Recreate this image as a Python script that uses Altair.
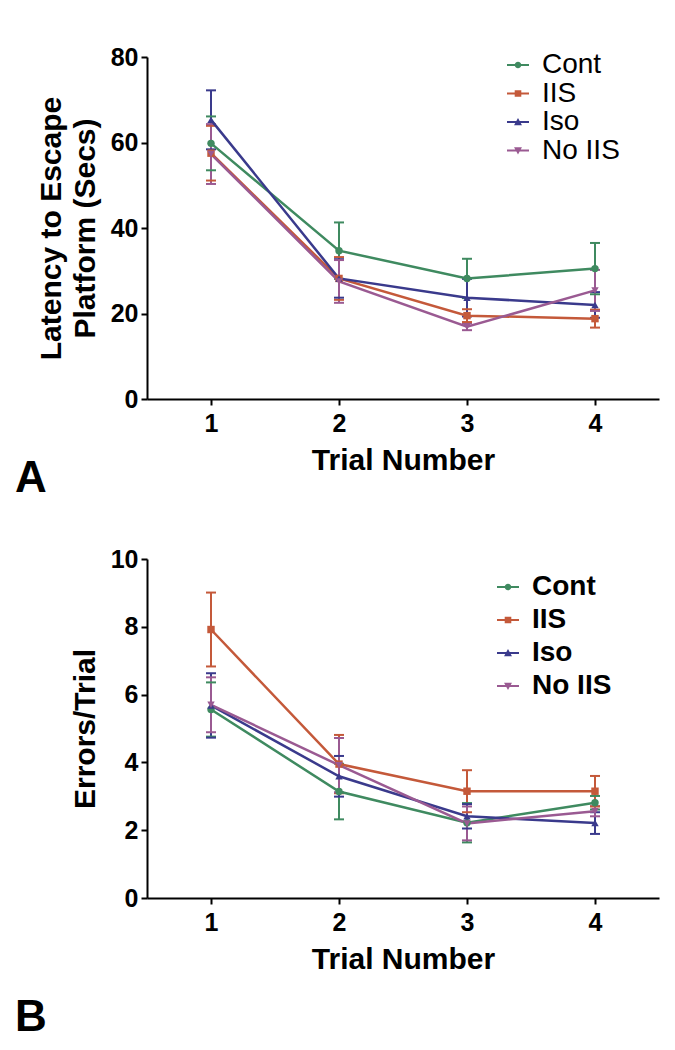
import altair as alt
import pandas as pd

FONT = "Liberation Sans"

series = ["Cont", "IIS", "Iso", "No IIS"]
colors = ["#3f8a60", "#c4593a", "#3a3a8c", "#9a5a92"]
shapes = ["circle", "square", "triangle-up", "triangle-down"]
trials = [1, 2, 3, 4]

# Panel A: latency to escape platform (s), mean and SEM
lat_cont = [59.8, 34.7, 28.2, 30.5]
lat_cont_err = [6.3, 6.6, 4.6, 6.0]
lat_iis = [57.5, 28.2, 19.5, 18.8]
lat_iis_err = [6.4, 5.0, 1.5, 2.1]
lat_iso = [65.3, 28.2, 23.7, 22.0]
lat_iso_err = [6.9, 4.5, 4.4, 3.0]
lat_noiis = [57.3, 27.5, 16.9, 25.4]
lat_noiis_err = [7.0, 5.0, 0.8, 4.8]

# Panel B: errors per trial, mean and SEM
err_cont = [5.56, 3.14, 2.22, 2.81]
err_cont_err = [0.80, 0.82, 0.58, 0.20]
err_iis = [7.92, 3.95, 3.15, 3.15]
err_iis_err = [1.09, 0.86, 0.62, 0.45]
err_iso = [5.68, 3.59, 2.41, 2.21]
err_iso_err = [0.95, 0.60, 0.36, 0.32]
err_noiis = [5.70, 3.92, 2.20, 2.56]
err_noiis_err = [0.81, 0.80, 0.50, 0.15]

# legend glyphs: line stub plus marker (custom SVG paths, unit square)
stub = "M-1,-0.09H1V0.09H-1Z"
legend_paths = [
    stub + "M-0.3,0A0.3,0.3 0 1,1 0.3,0A0.3,0.3 0 1,1 -0.3,0Z",
    stub + "M-0.3,-0.3H0.3V0.3H-0.3Z",
    stub + "M0,-0.36L0.36,0.3H-0.36Z",
    stub + "M-0.36,-0.3H0.36L0,0.36Z",
]


def to_long(vals, errs):
    rows = []
    for s, v, e in zip(series, vals, errs):
        for t, m, d in zip(trials, v, e):
            rows.append({"series": s, "trial": t, "mean": m, "lo": m - d, "hi": m + d})
    return pd.DataFrame(rows)


def panel(df, ymax, ystep, ytitle, height, letter, bold_legend, lx, ly, row_pad, letter_dy):
    base = alt.Chart(df)
    x = alt.X("trial:Q", scale=alt.Scale(domain=[0.5, 4.5], nice=False, zero=False),
              axis=alt.Axis(values=trials, format="d", title="Trial Number", grid=False,
                            labelPadding=6, titlePadding=9))
    y_vals = list(range(0, ymax + 1, ystep))
    yscale = alt.Scale(domain=[0, ymax], nice=False, zero=True)
    yaxis = alt.Axis(values=y_vals, title=ytitle, grid=False, labelPadding=3,
                     titlePadding=10, titleLineHeight=34)
    cscale = alt.Scale(domain=series, range=colors)
    col = alt.Color("series:N", scale=cscale, legend=None)

    rules = base.mark_rule(strokeWidth=2).encode(
        x=x, y=alt.Y("lo:Q", scale=yscale, axis=yaxis), y2="hi:Q", color=col)
    cap_hi = base.mark_tick(orient="horizontal", size=10, thickness=2, opacity=1).encode(
        x=x, y=alt.Y("hi:Q", scale=yscale, axis=yaxis), color=col)
    cap_lo = base.mark_tick(orient="horizontal", size=10, thickness=2, opacity=1).encode(
        x=x, y=alt.Y("lo:Q", scale=yscale, axis=yaxis), color=col)
    lines = base.mark_line(strokeWidth=2.5).encode(
        x=x, y=alt.Y("mean:Q", scale=yscale, axis=yaxis), color=col,
        detail="series:N", order="trial:Q")
    pts = base.mark_point(filled=True, opacity=1, size=55).encode(
        x=x, y=alt.Y("mean:Q", scale=yscale, axis=yaxis), color=col,
        shape=alt.Shape("series:N", scale=alt.Scale(domain=series, range=shapes), legend=None))

    leg = alt.Legend(title=None, orient="none", legendX=lx, legendY=ly,
                     labelFont=FONT, labelFontSize=28,
                     labelFontWeight="bold" if bold_legend else "normal",
                     labelColor="black", symbolSize=484, labelOffset=10,
                     rowPadding=row_pad, symbolStrokeWidth=0, padding=0)
    legend_layer = base.transform_filter("false").mark_point(filled=True, opacity=1).encode(
        x=x, y=alt.Y("mean:Q", scale=yscale, axis=yaxis),
        color=alt.Color("series:N", scale=cscale, legend=leg),
        shape=alt.Shape("series:N", scale=alt.Scale(domain=series, range=legend_paths), legend=leg))

    return alt.layer(rules, cap_hi, cap_lo, lines, pts, legend_layer).resolve_scale(
        color="independent", shape="independent"
    ).properties(
        width=512, height=height,
        title=alt.TitleParams(text=letter, orient="bottom", anchor="start", frame="group",
                              font=FONT, fontSize=44, fontWeight="bold", color="black",
                              dx=-132, dy=letter_dy, offset=0),
    )


dfA = to_long([lat_cont, lat_iis, lat_iso, lat_noiis],
              [lat_cont_err, lat_iis_err, lat_iso_err, lat_noiis_err])
dfB = to_long([err_cont, err_iis, err_iso, err_noiis],
              [err_cont_err, err_iis_err, err_iso_err, err_noiis_err])

chartA = panel(dfA, 80, 20, ["Latency to Escape", "Platform (Secs)"], 342, "A",
               False, 357, -6, 0.5, -18)
chartB = panel(dfB, 10, 2, "Errors/Trial", 339, "B", True, 347, 14, 5, 22)

chart = alt.vconcat(chartA, chartB, spacing=46).properties(
    padding={"top": 37, "left": 7, "right": 5, "bottom": 2}
).configure_view(stroke=None).configure_axis(
    domainColor="black", domainWidth=2, tickColor="black", tickWidth=2, tickSize=6,
    labelFont=FONT, labelFontSize=25, labelFontWeight="bold", labelColor="black",
    titleFont=FONT, titleFontSize=30, titleFontWeight="bold", titleColor="black",
)

chart.save("out.html", embed_options={"renderer": "svg", "actions": False})
